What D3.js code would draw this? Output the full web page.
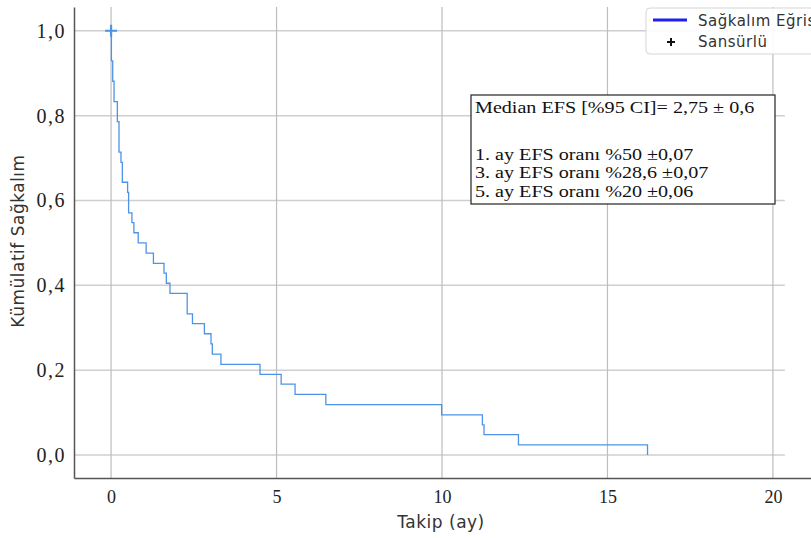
<!DOCTYPE html>
<html>
<head>
<meta charset="utf-8">
<script src="https://cdn.jsdelivr.net/npm/d3@7"></script>
<style>
    body { margin: 0; background: #fff; }
    svg { display: block; }
</style>
</head>
<body>
<svg id="chart" width="811" height="538"></svg>
<script>
"use strict";

// Kaplan-Meier steps (time in months, cumulative survival)
var times = [0, 0.01, 0.05, 0.09, 0.19, 0.24, 0.30, 0.34, 0.50, 0.53, 0.63, 0.69, 0.82,
    1.06, 1.28, 1.60, 1.67, 1.78, 2.30, 2.46, 2.82, 3.02, 3.06, 3.32, 4.50, 5.14, 5.56,
    6.49, 9.99, 11.22, 11.27, 12.31, 16.21];
var survival = [1.000, 0.929, 0.881, 0.833, 0.786, 0.714, 0.690, 0.643, 0.619, 0.571,
    0.548, 0.524, 0.500, 0.476, 0.452, 0.429, 0.405, 0.381, 0.333, 0.310, 0.286, 0.262,
    0.238, 0.214, 0.190, 0.167, 0.143, 0.119, 0.095, 0.071, 0.048, 0.024, 0.000];
var censored = [{ time: 0, value: 1.0 }];

var xTicks = [0, 5, 10, 15, 20];
var yTicks = [0, 0.2, 0.4, 0.6, 0.8, 1.0];
var legendLabels = ["Sağkalım Eğrisi", "Sansürlü"];
var noteLines = [
    "Median EFS [%95 CI]= 2,75 ± 0,6",
    "1. ay EFS oranı %50 ±0,07",
    "3. ay EFS oranı %28,6 ±0,07",
    "5. ay EFS oranı %20 ±0,06"
];

var lineColor = "#4d94e8";
var svg = d3.select("#chart");

var x = d3.scaleLinear().domain([-1.12, 21.15]).range([74, 811]);
var y = d3.scaleLinear().domain([-0.054, 1.056]).range([478, 7]);
var fmt = function (d) { return d3.format(".1f")(d).replace(".", ","); };

// grid
var grid = svg.append("g").attr("class", "grid");
grid.selectAll("line.h").data(yTicks).enter().append("line")
    .attr("x1", x.range()[0]).attr("x2", x(20.36))
    .attr("y1", function (d) { return y(d); })
    .attr("y2", function (d) { return y(d); })
    .attr("stroke", "#cfcfcf").attr("stroke-width", 1.5);
grid.selectAll("line.v").data(xTicks).enter().append("line")
    .attr("x1", function (d) { return x(d); })
    .attr("x2", function (d) { return x(d); })
    .attr("y1", y.range()[1]).attr("y2", y.range()[0])
    .attr("stroke", "#bdbdbd").attr("stroke-width", 1.2);

// axes
var xAxis = d3.axisBottom(x).tickValues(xTicks).tickSize(0).tickPadding(12)
    .tickFormat(d3.format("d"));
var yAxis = d3.axisLeft(y).tickValues(yTicks).tickSize(0).tickPadding(8)
    .tickFormat(fmt);
var gX = svg.append("g").attr("transform", "translate(0," + y.range()[0] + ")").call(xAxis);
var gY = svg.append("g").attr("transform", "translate(" + x.range()[0] + ",0)").call(yAxis);
[gX, gY].forEach(function (g) {
    g.select(".domain").attr("stroke", "#555").attr("stroke-width", 1.5);
    g.selectAll("text")
        .attr("fill", "#222")
        .style("font-family", "'Liberation Serif', 'Times New Roman', serif")
        .style("font-size", "18px");
});
gY.selectAll("text").style("font-size", "20px").style("letter-spacing", "1.5px");

// survival curve
var steps = times.map(function (t, i) { return { time: t, value: survival[i] }; });
var line = d3.line()
    .x(function (d) { return x(d.time); })
    .y(function (d) { return y(d.value); })
    .curve(d3.curveStepAfter);
svg.append("path").datum(steps)
    .attr("d", line)
    .attr("fill", "none")
    .attr("stroke", lineColor)
    .attr("stroke-width", 1.3);

svg.selectAll("path.cens").data(censored).enter().append("path")
    .attr("class", "cens")
    .attr("d", function (d) {
        var cx = x(d.time), cy = y(d.value);
        return "M" + (cx - 6) + "," + cy + "H" + (cx + 6) + "M" + cx + "," + (cy - 6) + "V" + (cy + 6);
    })
    .attr("stroke", lineColor).attr("stroke-width", 2.2);

// axis titles
svg.append("text")
    .attr("x", 441).attr("y", 528)
    .attr("text-anchor", "middle")
    .attr("fill", "#333")
    .style("font-family", "'DejaVu Sans', sans-serif").style("font-size", "17px")
    .style("letter-spacing", "0.5px")
    .text("Takip (ay)");
svg.append("text")
    .attr("transform", "translate(24,241) rotate(-90)")
    .attr("text-anchor", "middle")
    .attr("fill", "#333")
    .style("font-family", "'DejaVu Sans', sans-serif").style("font-size", "17px")
    .style("letter-spacing", "0.5px")
    .text("Kümülatif Sağkalım");

// legend (runs off the right edge, as in the source image)
var lg = svg.append("g").attr("transform", "translate(646,8)");
lg.append("rect").attr("width", 200).attr("height", 46).attr("rx", 4)
    .attr("fill", "#fff").attr("fill-opacity", 0.9)
    .attr("stroke", "#d6d6d6");
lg.append("line").attr("x1", 7).attr("x2", 41).attr("y1", 12).attr("y2", 12)
    .attr("stroke", "#1f1fee").attr("stroke-width", 3);
lg.append("path").attr("d", "M21,34H29M25,30V38")
    .attr("stroke", "#111").attr("stroke-width", 2);
lg.selectAll("text").data(legendLabels).enter().append("text")
    .attr("x", 52)
    .attr("y", function (d, i) { return 18 + i * 21; })
    .attr("fill", "#333")
    .style("font-family", "'DejaVu Sans', sans-serif").style("font-size", "15px")
    .style("letter-spacing", "0.5px")
    .text(function (d) { return d; });

// note box
var noteY = [18, 65, 83.5, 102];
var nb = svg.append("g").attr("transform", "translate(471,95)");
nb.append("rect").attr("width", 304).attr("height", 109)
    .attr("fill", "#fff").attr("stroke", "#222").attr("stroke-width", 1.2);
nb.append("g").attr("transform", "translate(4,0) scale(1.15,1)")
    .selectAll("text").data(noteLines).enter().append("text")
    .attr("x", 0)
    .attr("y", function (d, i) { return noteY[i]; })
    .attr("fill", "#111")
    .style("font-family", "'Liberation Serif', 'Times New Roman', serif")
    .style("font-size", "17.5px")
    .text(function (d) { return d; });
</script>
</body>
</html>
